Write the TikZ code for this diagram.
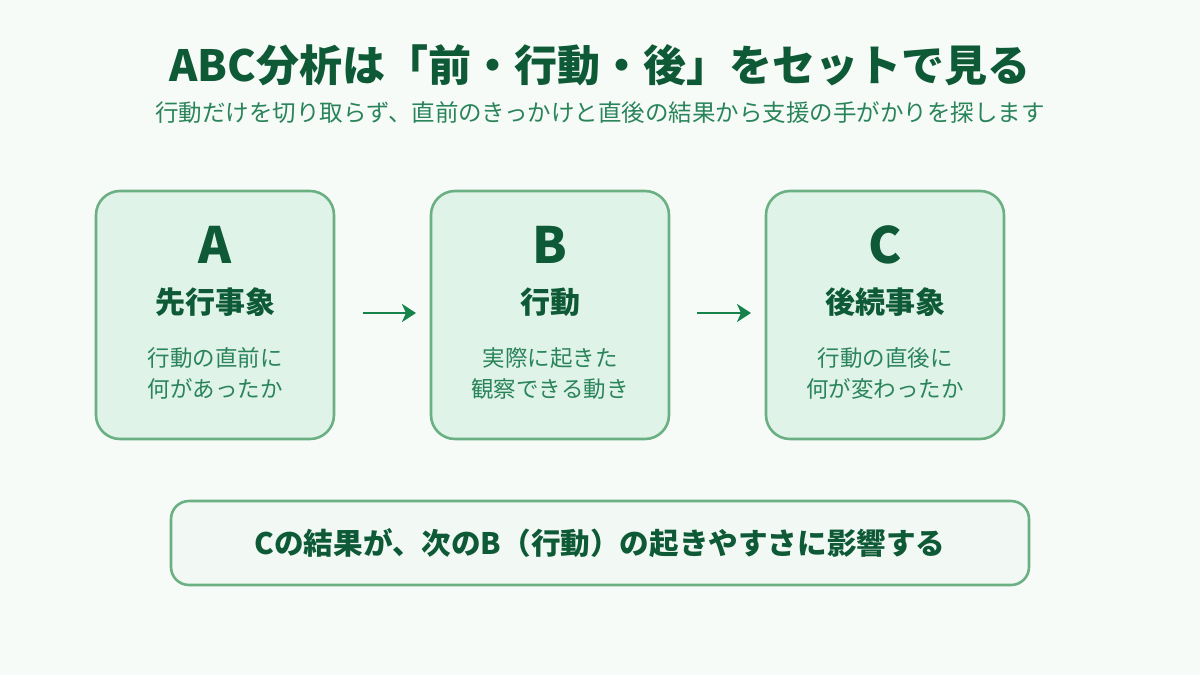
\documentclass[tikz,border=0pt]{standalone}
\usepackage{fontspec}
\setmainfont{Noto Sans CJK JP}
\usetikzlibrary{arrows.meta}
\definecolor{bgc}{HTML}{F7FBF8}
\definecolor{darkg}{HTML}{0E5A36}
\definecolor{midg}{HTML}{2A845A}
\definecolor{boxline}{HTML}{6BB083}
\definecolor{boxfill}{HTML}{E0F3E8}
\definecolor{notefill}{HTML}{F2F9F5}
\definecolor{arrowc}{HTML}{15834A}
\tikzset{
  card/.style={draw=boxline, fill=boxfill, line width=2.6pt, rounded corners=24pt, minimum width=238pt, minimum height=248pt, inner sep=0pt},
  letter/.style={text=darkg, font=\fontsize{50}{50}\selectfont\bfseries, inner sep=0pt},
  cardtitle/.style={text=darkg, font=\fontsize{30}{30}\selectfont\bfseries, inner sep=0pt},
  carddesc/.style={text=midg, font=\fontsize{22.5}{31}\selectfont, align=center, inner sep=0pt},
  flow/.style={draw=arrowc, line width=2.6pt, -{Stealth[length=14pt,width=18pt,inset=4pt]}},
  note/.style={draw=boxline, fill=notefill, line width=2.6pt, rounded corners=18pt, minimum width=858pt, minimum height=84pt, inner sep=0pt}
}
\begin{document}
\begin{tikzpicture}[x=1pt,y=-1pt]
\fill[bgc] (0,0) rectangle (1200,675);
\useasboundingbox (0,0) rectangle (1200,675);
\node[text=darkg, font=\fontsize{43}{43}\selectfont\bfseries, inner sep=0pt] (title) at (600,65) {ABC分析は「前・行動・後」をセットで見る};
\node[text=midg, font=\fontsize{23.5}{23.5}\selectfont, inner sep=0pt] (sub) at (600,113) {行動だけを切り取らず、直前のきっかけと直後の結果から支援の手がかりを探します};

\node[card] (ca) at (215,315) {};
\node[card] (cb) at (550,315) {};
\node[card] (cc) at (885,315) {};

\node[letter] (la) at (215,245) {A};
\node[letter] (lb) at (550,245) {B};
\node[letter] (lc) at (885,245) {C};

\node[cardtitle] (ta) at (215,302) {先行事象};
\node[cardtitle] (tb) at (550,302) {行動};
\node[cardtitle] (tc) at (885,302) {後続事象};

\node[carddesc] (da) at (215,373) {行動の直前に\\何があったか};
\node[carddesc] (db) at (550,373) {実際に起きた\\観察できる動き};
\node[carddesc] (dc) at (885,373) {行動の直後に\\何が変わったか};

\coordinate (a1) at (363,313);
\coordinate (a2) at (416,313);
\coordinate (b1) at (697,313);
\coordinate (b2) at (751,313);
\draw[flow] (a1) -- (a2);
\draw[flow] (b1) -- (b2);

\node[note] (nt) at (600,543) {};
\node[text=darkg, font=\fontsize{29.6}{29.6}\selectfont\bfseries, inner sep=0pt] (ntext) at (600,543) {Cの結果が、次のB（行動）の起きやすさに影響する};
\end{tikzpicture}
\end{document}
